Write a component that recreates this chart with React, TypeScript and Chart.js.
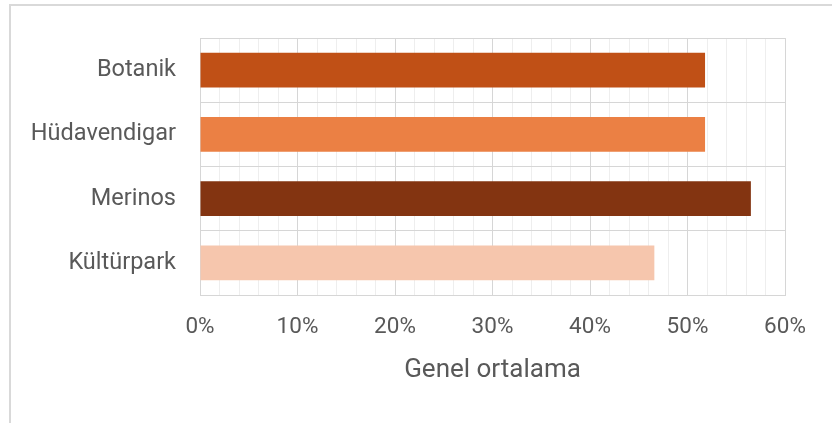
import React, { useEffect, useRef } from "react";
import { Chart, registerables } from "chart.js";

Chart.register(...registerables);

const categories = ["Botanik", "Hüdavendigar", "Merinos", "Kültürpark"];
const values = [51.8, 51.8, 56.5, 46.6];
const barColors = ["#C05016", "#EB8044", "#833411", "#F6C6AD"];
const axisTitle = "Genel ortalama";
const xMin = 0;
const xMax = 60;
const xStep = 2;

const FONT = "Roboto, 'Noto Sans', sans-serif";
const TEXT = "#595959";

export default function App() {
  const ref = useRef<HTMLCanvasElement | null>(null);

  useEffect(() => {
    if (!ref.current) return;
    const chart = new Chart(ref.current, {
      type: "bar",
      data: {
        labels: categories,
        datasets: [
          {
            data: values,
            backgroundColor: barColors,
            borderWidth: 0,
            categoryPercentage: 1,
            barPercentage: 0.54,
          },
        ],
      },
      options: {
        indexAxis: "y",
        responsive: false,
        animation: false,
        layout: { padding: { top: 37, right: 47, left: 0, bottom: 0 } },
        plugins: {
          legend: { display: false },
          tooltip: { enabled: false },
        },
        scales: {
          x: {
            type: "linear",
            min: xMin,
            max: xMax,
            afterFit: (s: any) => {
              s.height = 128;
            },
            ticks: {
              stepSize: xStep,
              autoSkip: false,
              maxRotation: 0,
              padding: 19,
              color: TEXT,
              font: { family: FONT, size: 22.5 },
              callback: (v: any) => (Number(v) % 10 === 0 ? `${v}%` : ""),
            },
            grid: {
              drawTicks: false,
              lineWidth: 1,
              color: (ctx: any) =>
                ctx.tick && ctx.tick.value % 10 === 0 ? "#d6d6d6" : "#eeeeee",
            },
            border: { display: true, color: "#d6d6d6", width: 1 },
            title: {
              display: true,
              text: axisTitle,
              color: TEXT,
              font: { family: FONT, size: 26 },
              padding: { top: 0, bottom: 37 },
            },
          },
          y: {
            type: "category",
            afterFit: (s: any) => {
              s.width = 200;
            },
            ticks: {
              padding: 24,
              color: TEXT,
              font: { family: FONT, size: 23.5 },
            },
            grid: {
              offset: true,
              drawTicks: false,
              color: "#d6d6d6",
              lineWidth: 1,
            },
            border: { display: true, color: "#d6d6d6", width: 1 },
          },
        },
      },
    });
    return () => chart.destroy();
  }, []);

  return (
    <>
      <div
        style={{
          position: "fixed",
          left: 9,
          top: 4,
          width: 2000,
          height: 2000,
          border: "2px solid #d9d9d9",
          background: "#fff",
        }}
      />
      <canvas
        ref={ref}
        width={832}
        height={423}
        style={{ position: "fixed", left: 0, top: 0, width: 832, height: 423 }}
      />
    </>
  );
}
